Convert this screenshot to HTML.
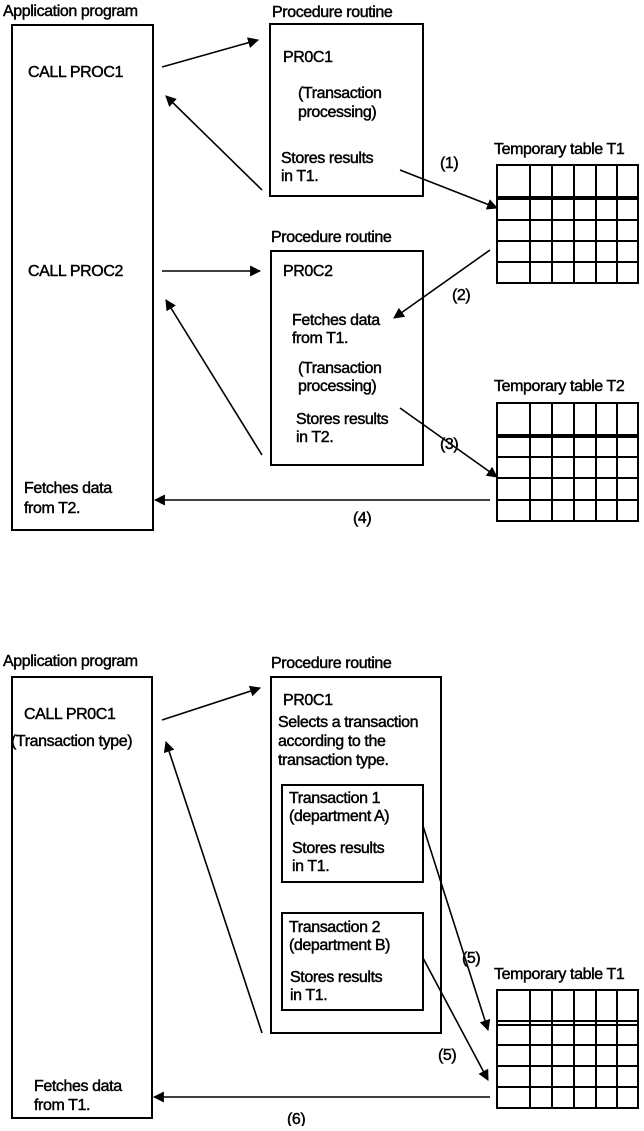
<!DOCTYPE html>
<html><head><meta charset="utf-8"><style>
html,body{margin:0;padding:0;background:#fff}
svg text{font-family:"Liberation Sans",sans-serif;font-size:16px;fill:#000;stroke:#000;stroke-width:0.45px;letter-spacing:-0.4px}
</style></head><body>
<svg width="644" height="1126" viewBox="0 0 644 1126" xmlns="http://www.w3.org/2000/svg">
<defs>
<marker id="a" viewBox="0 0 10 10" refX="9" refY="5" markerWidth="11" markerHeight="11" markerUnits="userSpaceOnUse" orient="auto"><path d="M0,0L10,5L0,10z" fill="#000"/></marker>
</defs>
<g fill="none" stroke="#000" stroke-width="2">
<rect x="12" y="25" width="141" height="505"/>
<rect x="270" y="24" width="153" height="172"/>
<rect x="271" y="251" width="152" height="214"/>
<rect x="12" y="677" width="140" height="441"/>
<rect x="271" y="677" width="170" height="356"/>
<rect x="282" y="785" width="141" height="97"/>
<rect x="282" y="913" width="141" height="97"/>
</g>
<g stroke="#000" stroke-width="2" fill="none">
<rect x="497" y="165" width="141" height="118"/>
<path d="M530 165V283M552 165V283M574 165V283M596 165V283M617 165V283M497 220H638M497 241H638M497 262H638"/>
<path d="M497 198H638" stroke-width="4"/>
<rect x="497" y="403" width="141" height="118"/>
<path d="M530 403V521M552 403V521M574 403V521M596 403V521M617 403V521M497 457H638M497 478H638M497 500H638"/>
<path d="M497 436H638" stroke-width="4"/>
<rect x="497" y="990" width="141" height="118"/>
<path d="M530 990V1108M552 990V1108M574 990V1108M596 990V1108M617 990V1108M497 1045H638M497 1066H638M497 1087H638M497 1021H638M497 1025H638"/>
</g>
<g stroke="#000" stroke-width="1.6" fill="none" marker-end="url(#a)">
<line x1="162" y1="67" x2="258" y2="40"/>
<line x1="262" y1="190" x2="166" y2="96"/>
<line x1="400" y1="170" x2="497" y2="208"/>
<line x1="490" y1="250" x2="394" y2="318"/>
<line x1="162" y1="271" x2="260" y2="271"/>
<line x1="262" y1="455" x2="166" y2="300"/>
<line x1="400" y1="408" x2="497" y2="477"/>
<line x1="490" y1="500" x2="155" y2="500"/>
<line x1="162" y1="720" x2="260" y2="688"/>
<line x1="262" y1="1033" x2="166" y2="742"/>
<line x1="423" y1="826" x2="488" y2="1030"/>
<line x1="423" y1="958" x2="488" y2="1080"/>
<line x1="490" y1="1097" x2="154" y2="1097"/>
</g>
<text x="3" y="16">Application program</text>
<text x="272" y="17">Procedure routine</text>
<text x="28" y="77">CALL PROC1</text>
<text x="283" y="62">PR0C1</text>
<text x="298" y="98">(Transaction</text>
<text x="298" y="117">processing)</text>
<text x="281" y="163">Stores results</text>
<text x="281" y="181">in T1.</text>
<text x="440" y="168">(1)</text>
<text x="494" y="154">Temporary table T1</text>
<text x="271" y="242">Procedure routine</text>
<text x="28" y="276">CALL PROC2</text>
<text x="283" y="276">PR0C2</text>
<text x="292" y="325">Fetches data</text>
<text x="292" y="343">from T1.</text>
<text x="298" y="373">(Transaction</text>
<text x="298" y="391">processing)</text>
<text x="296" y="424">Stores results</text>
<text x="296" y="442">in T2.</text>
<text x="452" y="300">(2)</text>
<text x="440" y="449">(3)</text>
<text x="494" y="391">Temporary table T2</text>
<text x="24" y="493">Fetches data</text>
<text x="24" y="513">from T2.</text>
<text x="353" y="523">(4)</text>
<text x="3" y="666">Application program</text>
<text x="271" y="668">Procedure routine</text>
<text x="24" y="719">CALL  PR0C1</text>
<text x="11" y="746" letter-spacing="-1">(Transaction type)</text>
<text x="283" y="705">PR0C1</text>
<text x="278" y="727">Selects a transaction</text>
<text x="278" y="746">according to the</text>
<text x="278" y="765">transaction type.</text>
<text x="289" y="803">Transaction 1</text>
<text x="289" y="821">(department A)</text>
<text x="292" y="853">Stores results</text>
<text x="292" y="871">in T1.</text>
<text x="289" y="932">Transaction 2</text>
<text x="289" y="950">(department B)</text>
<text x="290" y="982">Stores results</text>
<text x="290" y="1000">in T1.</text>
<text x="462" y="963">(5)</text>
<text x="438" y="1060">(5)</text>
<text x="494" y="979">Temporary table T1</text>
<text x="34" y="1091">Fetches data</text>
<text x="34" y="1110">from T1.</text>
<text x="287" y="1124">(6)</text>
</svg>
</body></html>
